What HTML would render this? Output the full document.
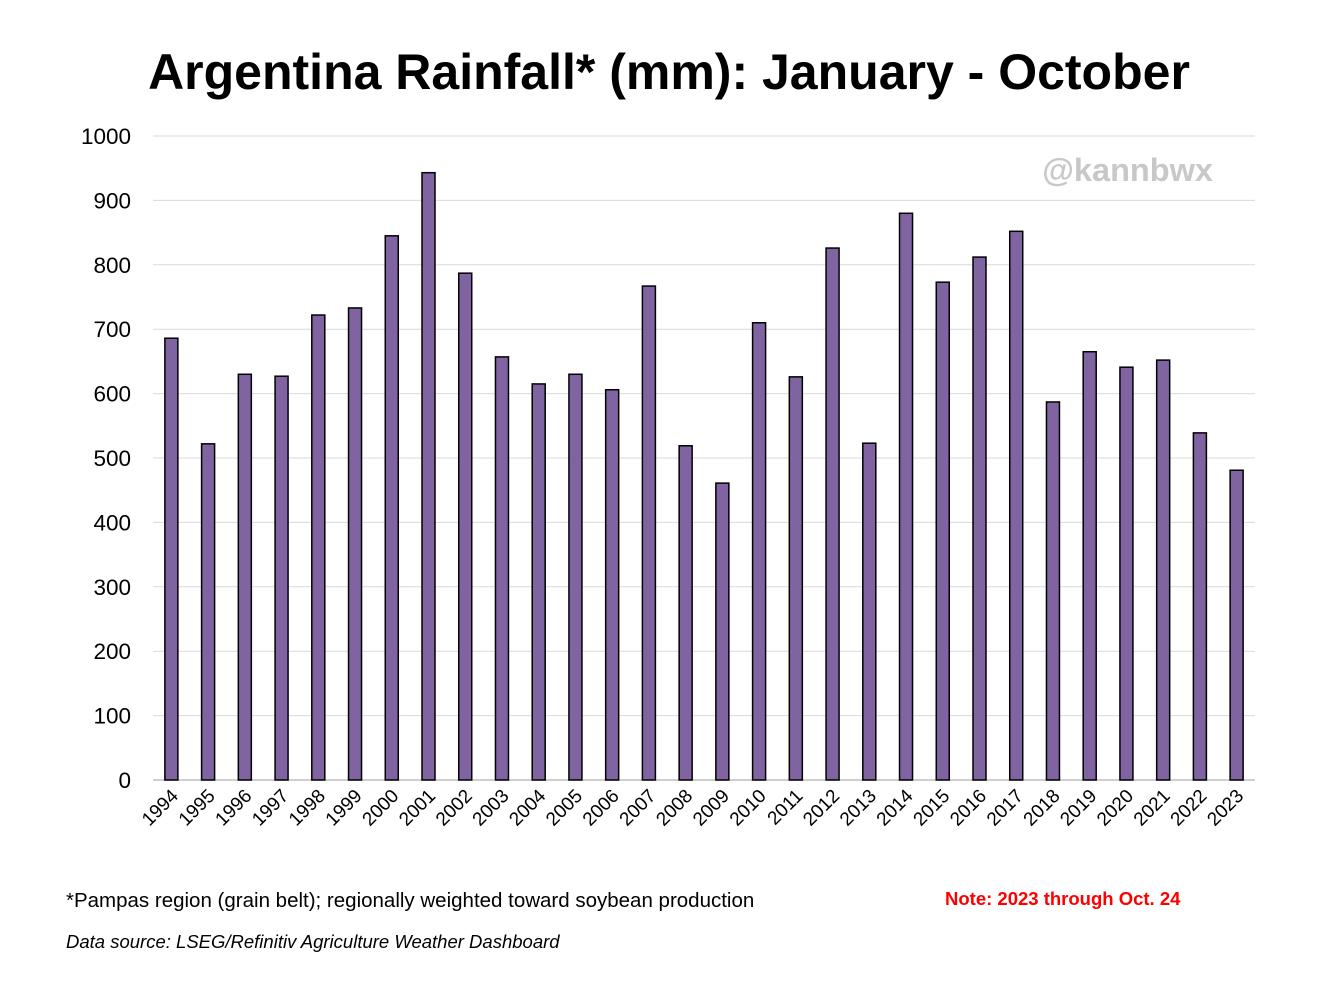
<!DOCTYPE html>
<html><head><meta charset="utf-8"><style>
html,body{margin:0;padding:0;background:#fff;}
body{width:1325px;height:986px;overflow:hidden;font-family:"Liberation Sans",Arial,sans-serif;}
</style></head><body>
<svg id="chart" width="1325" height="986" xmlns="http://www.w3.org/2000/svg" font-family="Liberation Sans, Arial, sans-serif">
<text x="669" y="89" text-anchor="middle" font-size="50" font-weight="bold" fill="#000">Argentina Rainfall* (mm): January - October</text>
<g id="grid"></g>
<g id="bars"></g>
<g id="xlabels"></g>
<g id="ylabels"></g>
<text x="1213" y="181" text-anchor="end" font-size="32.5" font-weight="bold" fill="#c8c8c8">@kannbwx</text>
<text x="66" y="907" font-size="20.5" fill="#000">*Pampas region (grain belt); regionally weighted toward soybean production</text>
<text x="945" y="905" font-size="18.5" font-weight="bold" fill="#ff0000">Note: 2023 through Oct. 24</text>
<text x="66" y="948" font-size="18.5" font-style="italic" fill="#000">Data source: LSEG/Refinitiv Agriculture Weather Dashboard</text>
</svg>
<script>
const years=["1994","1995","1996","1997","1998","1999","2000","2001","2002","2003","2004","2005","2006","2007","2008","2009","2010","2011","2012","2013","2014","2015","2016","2017","2018","2019","2020","2021","2022","2023"];
const rainfall=[686,522,630,627,722,733,845,943,787,657,615,630,606,767,519,461,710,626,826,523,880,773,812,852,587,665,641,652,539,481];
const yTicks=[0,100,200,300,400,500,600,700,800,900,1000];
const NS="http://www.w3.org/2000/svg";
const x0=153,x1=1255,y0=780,y1=136,yMax=1000;
const band=(x1-x0)/years.length;
const yScale=v=>y0-(v/yMax)*(y0-y1);
const xCenter=i=>x0+band*(i+0.5);
function mk(tag,attrs){const e=document.createElementNS(NS,tag);for(const k in attrs)e.setAttribute(k,attrs[k]);return e;}
const grid=document.getElementById('grid'),ylab=document.getElementById('ylabels');
yTicks.forEach(t=>{
  const y=yScale(t);
  const l=mk('line',{x1:x0,x2:x1,y1:y,y2:y,stroke:t===0?'#bfbfbf':'#d9d9d9','stroke-width':t===0?1.5:1});
  
  
  grid.appendChild(l);
  const tx=mk('text',{x:131,y:y+8,'text-anchor':'end','font-size':22.5,fill:'#000'});
  tx.textContent=t;
  
  
  ylab.appendChild(tx);
});
const bars=document.getElementById('bars'),xl=document.getElementById('xlabels');
const bw=13;
years.forEach((yr,i)=>{
  const cx=xCenter(i),top=yScale(rainfall[i]);
  const r=mk('rect',{x:cx-bw/2,y:top,width:bw,height:y0-top,fill:'#8064a2',stroke:'#000','stroke-width':1.5});
  
  
  bars.appendChild(r);
  const t=mk('text',{x:cx+8,y:797,'text-anchor':'end','font-size':19,fill:'#000',transform:`rotate(-45 ${cx+8} 797)`});
  t.textContent=yr;
  
  
  xl.appendChild(t);
});
</script>
</body></html>
